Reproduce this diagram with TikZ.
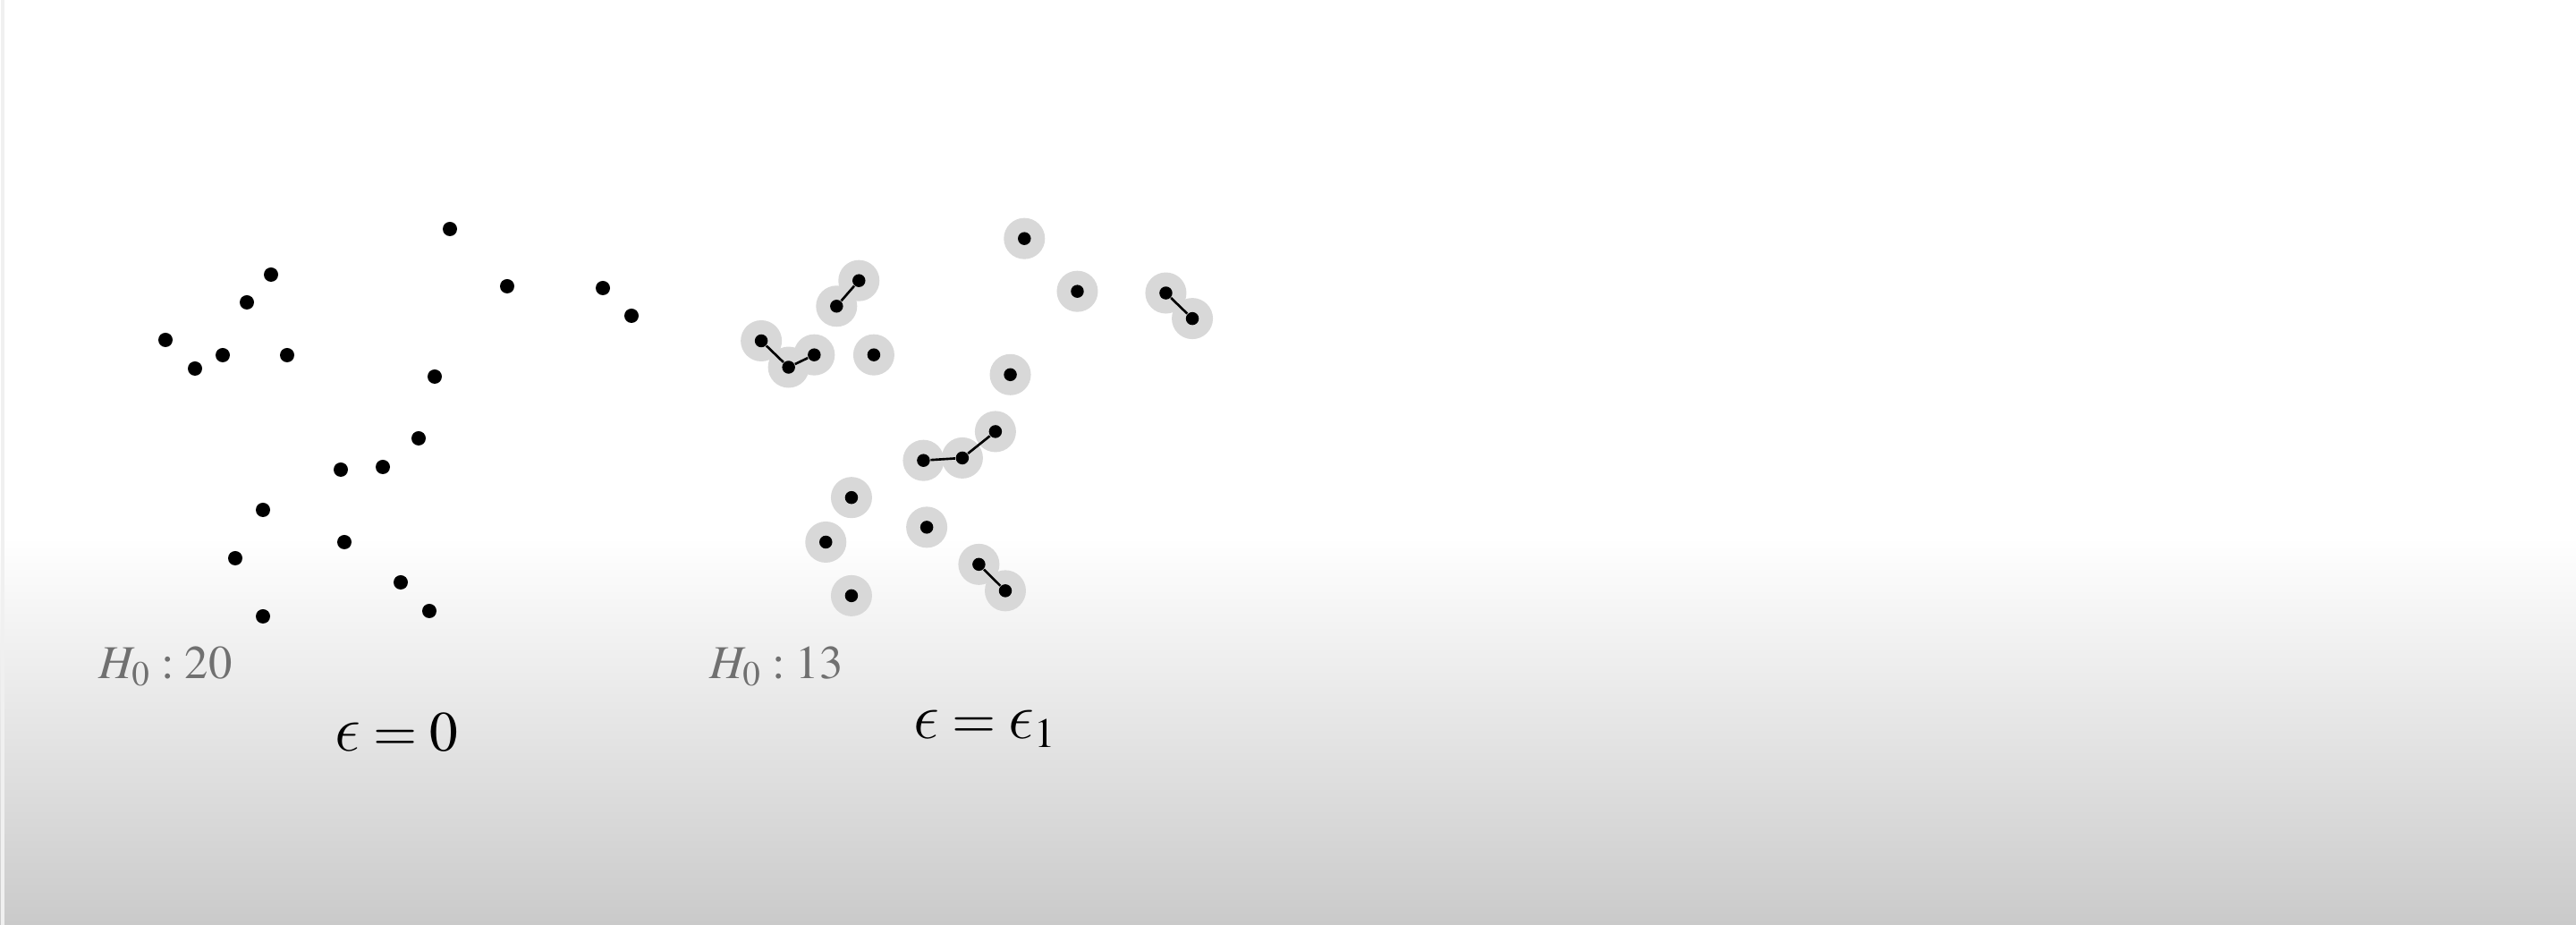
\documentclass[tikz,border=0pt]{standalone}
\usepackage{mathptmx}
\usepackage{graphicx}
\usepackage{tikz}

% lunate epsilon from the cm letters
\DeclareSymbolFont{cmletters}{OML}{cmm}{m}{it}
\DeclareMathSymbol{\lunateepsbase}{\mathord}{cmletters}{"0F}
\newcommand{\lunateeps}{\mathord{\scalebox{1.2}{$\lunateepsbase$}}}

\definecolor{bgbottom}{RGB}{202,202,202}
\definecolor{ballgray}{RGB}{216,216,216}
\definecolor{labelgray}{RGB}{112,112,112}

% point cloud (left copy, in cm)
\newcommand{\cloudpts}{5.03/7.78/1, 3.03/7.27/2, 5.67/7.14/3, 6.74/7.12/4, 2.76/6.96/5,
	7.06/6.81/6, 1.85/6.54/7, 2.49/6.37/8, 3.21/6.37/9, 2.18/6.22/10,
	4.86/6.13/11, 4.68/5.44/12, 3.81/5.09/13, 4.28/5.12/14, 2.94/4.64/15,
	3.85/4.28/16, 2.63/4.10/17, 4.48/3.83/18, 4.80/3.51/19, 2.94/3.45/20}

\tikzset{
	dot/.style={circle, fill=black, inner sep=0pt, minimum size=1.6mm},
	smalldot/.style={dot, minimum size=1.45mm},
	ball/.style={circle, fill=ballgray, inner sep=0pt, minimum size=4.6mm},
	link/.style={line width=0.75pt},
	count/.style={anchor=base west, inner sep=0pt, text=labelgray, font=\fontsize{15}{18}\selectfont},
	epslabel/.style={anchor=base west, inner sep=0pt, font=\fontsize{18}{22}\selectfont}
}

\begin{document}
\begin{tikzpicture}
	\useasboundingbox (0,0) rectangle (28.8,10.34);
	% background
	\fill[white] (0,0) rectangle (28.8,10.34);
	\shade[top color=white, bottom color=bgbottom] (0,0) rectangle (28.8,4.34);
	\draw[gray!12, line width=1.2pt] (0.03,0) -- (0.03,10.34);

	% epsilon = 0
	\foreach \x/\y/\i in \cloudpts
		\node[dot] (l\i) at (\x,\y) {};

	% epsilon = epsilon_1
	\foreach \x/\y/\i in \cloudpts
		\node[ball] (b\i) at ({0.925*\x+6.80},{0.922*\y+0.50}) {};
	\foreach \x/\y/\i in \cloudpts
		\node[smalldot] (r\i) at ({0.925*\x+6.80},{0.922*\y+0.50}) {};
	\foreach \a/\b in {7/10, 10/8, 5/2, 4/6, 13/14, 14/12, 18/19}
		\draw[link] (r\a) -- (r\b);

	% labels
	\node[count] (h0left) at (1.10,2.75) {$H_0 : 20$};
	\node[count] (h0right) at (7.93,2.75) {$H_0 : 13$};
	\node[epslabel] (epszero) at (3.74,1.94) {$\lunateeps = 0$};
	\node[epslabel] (epsone) at (10.21,2.08) {$\lunateeps = \lunateeps_1$};
\end{tikzpicture}
\end{document}
